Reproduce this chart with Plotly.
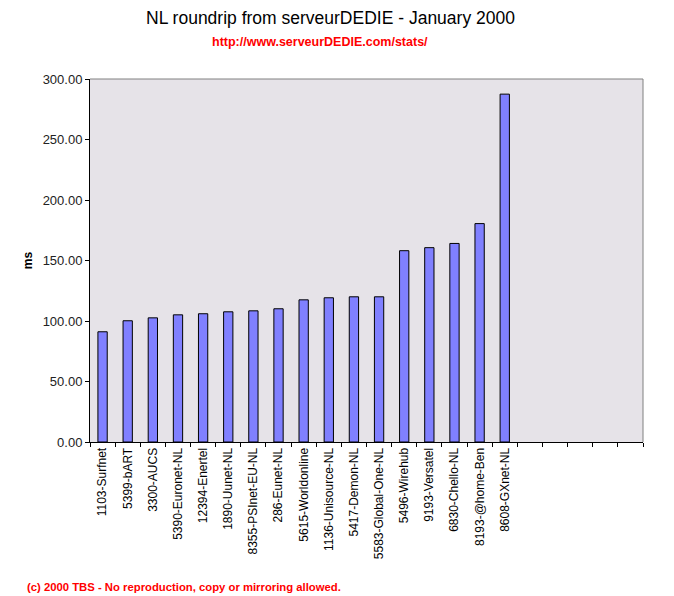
import plotly.graph_objects as go

categories = ["1103-Surfnet", "5399-bART", "3300-AUCS", "5390-Euronet-NL", "12394-Enertel",
              "1890-Uunet-NL", "8355-PSInet-EU-NL", "286-Eunet-NL", "5615-Worldonline",
              "1136-Unisource-NL", "5417-Demon-NL", "5583-Global-One-NL", "5496-Wirehub",
              "9193-Versatel", "6830-Chello-NL", "8193-@home-Ben", "8608-GXnet-NL"]
values_ms = [91.1, 100.2, 102.6, 105.1, 106.0, 107.6, 108.4, 110.1, 117.5,
             119.2, 120.0, 120.0, 158.1, 160.6, 164.1, 180.5, 287.5]
empty_slots = [" " * (i + 1) for i in range(5)]
y_ticks = [0, 50, 100, 150, 200, 250, 300]

all_cats = categories + empty_slots

# page body has an 8px margin; work in reference pixel coords shifted by it
OFF = 8
W, H = 674 - OFF, 596 - OFF
L, R, T, B = 90 - OFF, 31, 79 - OFF, 596 - 442
W_plot = W - L - R
H_plot = H - T - B


def px_x(px):
    return (px - OFF - L) / W_plot


def px_y(py):
    return (H - B - (py - OFF)) / H_plot


fig = go.Figure()
fig.add_trace(go.Bar(
    x=categories, y=values_ms,
    marker=dict(color="#8080FF", line=dict(color="black", width=1)),
    width=0.37,
))

fig.update_layout(
    width=W, height=H,
    margin=dict(l=L, r=R, t=T, b=B),
    paper_bgcolor="white", plot_bgcolor="#E6E3E8",
    showlegend=False,
    font=dict(family="Liberation Sans, Arial", color="black", size=12),
    annotations=[
        dict(text="NL roundrip from serveurDEDIE - January 2000",
             x=px_x(330), y=px_y(18), xref="paper", yref="paper",
             xanchor="center", yanchor="middle", showarrow=False,
             font=dict(size=17.5, color="black")),
        dict(text="<b>http://www.serveurDEDIE.com/stats/</b>",
             x=px_x(320), y=px_y(42), xref="paper", yref="paper",
             xanchor="center", yanchor="middle", showarrow=False,
             font=dict(size=12.5, color="#FF0000")),
        dict(text="<b>(c) 2000 TBS - No reproduction, copy or mirroring allowed.</b>",
             x=px_x(25), y=px_y(587), xref="paper", yref="paper",
             xanchor="left", yanchor="middle", showarrow=False,
             font=dict(size=11.3, color="#FF0000")),
    ],
)

fig.update_xaxes(
    type="category", categoryorder="array", categoryarray=all_cats,
    range=[-0.5, len(all_cats) - 0.5],
    tickson="boundaries", ticks="outside", ticklen=4, tickcolor="black",
    tickangle=-90, tickfont=dict(size=12, color="black"),
    showline=True, linecolor="black", linewidth=1,
    showgrid=False, zeroline=False, fixedrange=True,
)
fig.update_yaxes(
    range=[0, 300], tickvals=y_ticks, tickformat=".2f",
    ticks="outside", ticklen=4, tickcolor="black",
    tickfont=dict(size=13, color="#222222"),
    showline=True, linecolor="black", linewidth=1,
    showgrid=False, zeroline=False,
    title=dict(text="<b>ms</b>", font=dict(size=12, color="black"), standoff=7),
)
# gray top and right border of the plot area
fig.add_shape(type="line", xref="paper", yref="paper", x0=0, x1=1, y0=1, y1=1,
              line=dict(color="#808080", width=1))
fig.add_shape(type="line", xref="paper", yref="paper", x0=1, x1=1, y0=0, y1=1,
              line=dict(color="#808080", width=1))

fig.write_html("out.html")
